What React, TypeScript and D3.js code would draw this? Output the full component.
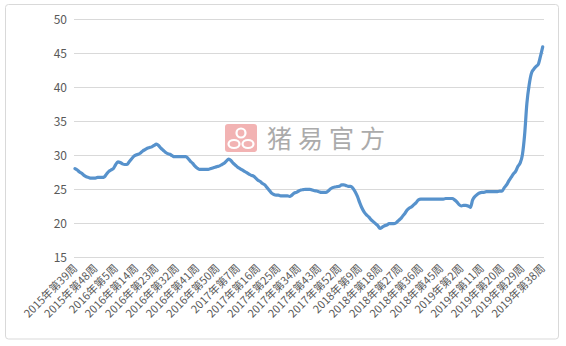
import React from "react";
import * as d3 from "d3";

const yTicks = [15, 20, 25, 30, 35, 40, 45, 50];

const tickLabels = [
  "2015年第39周", "2015年第48周", "2016年第5周", "2016年第14周", "2016年第23周",
  "2016年第32周", "2016年第41周", "2016年第50周", "2017年第7周", "2017年第16周",
  "2017年第25周", "2017年第34周", "2017年第43周", "2017年第52周", "2018年第9周",
  "2018年第18周", "2018年第27周", "2018年第36周", "2018年第45周", "2019年第2周",
  "2019年第11周", "2019年第20周", "2019年第29周", "2019年第38周",
];

const values = [
  28.0, 27.8, 27.5, 27.3, 27.0, 26.8, 26.7, 26.6, 26.6, 26.6,
  26.7, 26.7, 26.7, 26.8, 27.2, 27.6, 27.8, 28.0, 28.6, 29.0,
  28.9, 28.7, 28.6, 28.6, 29.0, 29.4, 29.8, 30.0, 30.1, 30.3,
  30.6, 30.8, 31.0, 31.1, 31.2, 31.4, 31.6, 31.4, 31.0, 30.7,
  30.4, 30.2, 30.1, 29.9, 29.75, 29.75, 29.75, 29.75, 29.75, 29.75,
  29.5, 29.1, 28.8, 28.4, 28.1, 27.9, 27.9, 27.9, 27.9, 27.9,
  28.0, 28.1, 28.2, 28.3, 28.4, 28.6, 28.8, 29.1, 29.4, 29.2,
  28.8, 28.5, 28.2, 28.0, 27.8, 27.6, 27.4, 27.2, 27.0, 26.9,
  26.6, 26.3, 26.1, 25.8, 25.6, 25.2, 24.8, 24.4, 24.2, 24.1,
  24.1, 24.0, 24.0, 24.0, 24.0, 23.9, 24.1, 24.4, 24.5, 24.7,
  24.85, 24.9, 24.95, 24.95, 24.95, 24.85, 24.75, 24.7, 24.6, 24.5,
  24.5, 24.5, 24.7, 25.0, 25.2, 25.3, 25.35, 25.4, 25.6, 25.6,
  25.5, 25.4, 25.4, 25.1, 24.6, 23.9, 23.0, 22.2, 21.6, 21.2,
  20.9, 20.5, 20.2, 19.9, 19.6, 19.2, 19.4, 19.6, 19.7, 19.9,
  19.9, 19.9, 20.0, 20.3, 20.6, 21.0, 21.4, 21.9, 22.2, 22.4,
  22.7, 23.0, 23.4, 23.5, 23.5, 23.5, 23.5, 23.5, 23.5, 23.5,
  23.5, 23.5, 23.5, 23.5, 23.6, 23.6, 23.6, 23.6, 23.4, 23.1,
  22.7, 22.5, 22.6, 22.6, 22.5, 22.3, 23.4, 23.9, 24.2, 24.4,
  24.5, 24.5, 24.6, 24.6, 24.6, 24.6, 24.6, 24.6, 24.7, 24.7,
  25.2, 25.6, 26.2, 26.7, 27.2, 27.6, 28.3, 28.8, 30.0, 33.0,
  37.6, 40.3, 42.0, 42.6, 43.0, 43.3, 44.5, 45.9,
];

const labelStep = 9;

export default function App() {
  const W = 566;
  const H = 346;
  const x = d3.scaleLinear().domain([0, values.length - 1]).range([75, 542.7]);
  const y = d3.scaleLinear().domain([15, 50]).range([257, 19]);
  const line = d3
    .line<number>()
    .x((_, i) => x(i))
    .y((d) => y(d))
    .curve(d3.curveMonotoneX);

  const font = "'Noto Sans CJK SC', 'Noto Sans', sans-serif";

  return (
    <svg
      width={W}
      height={H}
      style={{ position: "absolute", left: 0, top: 0, background: "#fff" }}
    >
      <rect x={0} y={0} width={W} height={H} fill="#fff" />
      <rect x={5.5} y={4.5} width={553} height={334.5} rx={3} fill="#fff" stroke="#d9d9d9" strokeWidth={1} />
      {yTicks.map((t) => (
        <g key={t}>
          <line x1={74} x2={544} y1={Math.round(y(t)) + 0.5} y2={Math.round(y(t)) + 0.5} stroke="#d9d9d9" strokeWidth={1} />
          <text x={67} y={y(t) + 4.5} textAnchor="end" fontSize={12} fill="#595959" fontFamily={font}>
            {t}
          </text>
        </g>
      ))}
      {/* watermark */}
      <g>
        <rect x={225} y={124} width={32} height={28} rx={3} fill="#f2b3b3" />
        <circle cx={241} cy={133} r={4.5} fill="none" stroke="#fff" strokeWidth={2.2} />
        <ellipse cx={234} cy={144} rx={5.5} ry={4} fill="none" stroke="#fff" strokeWidth={2.2} />
        <ellipse cx={248} cy={144} rx={5.5} ry={4} fill="none" stroke="#fff" strokeWidth={2.2} />
        <text x={267} y={148} fontSize={25} fill="#ababab" fontFamily={font} letterSpacing={6}>
          猪易官方
        </text>
      </g>
      <path
        d={line(values) || ""}
        fill="none"
        stroke="#5792cc"
        strokeWidth={3.2}
        strokeLinejoin="round"
        strokeLinecap="round"
      />
      {tickLabels.map((lab, k) => {
        const px = x(k * labelStep);
        return (
          <text
            key={lab}
            transform={`translate(${px + 3},${269}) rotate(-45)`}
            textAnchor="end"
            fontSize={11}
            fill="#595959"
            fontFamily={font}
          >
            {lab}
          </text>
        );
      })}
    </svg>
  );
}
